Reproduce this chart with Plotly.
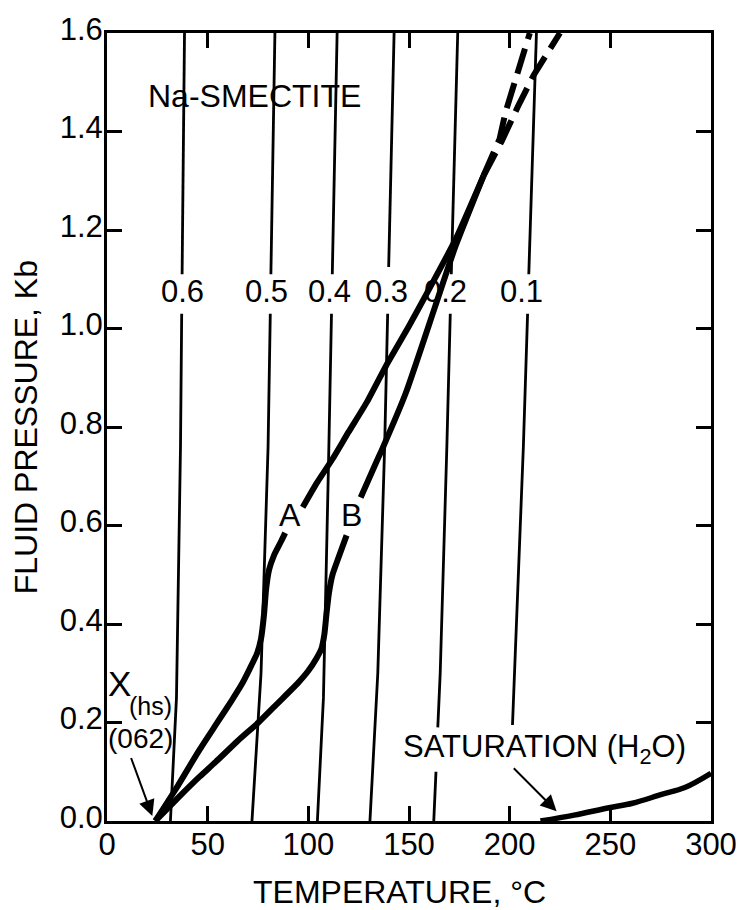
import plotly.graph_objects as go

# ---------------- data ----------------
# Isopleths of hydration state (temperature degC vs fluid pressure kb); None = label gap
ISO_06_T = [31.5, 34.5, 36.5, 37.1, None, 37.3, 38.5]
ISO_06_P = [0.0, 0.25, 0.76, 1.03, None, 1.11, 1.6]
ISO_05_T = [72.0, 76.5, 80.0, 81.1, None, 81.4, 83.4]
ISO_05_P = [0.0, 0.30, 0.76, 1.03, None, 1.11, 1.6]
ISO_04_T = [104.5, 107.5, 110.2, 111.5, None, 111.9, 114.3]
ISO_04_P = [0.0, 0.25, 0.76, 1.03, None, 1.11, 1.6]
ISO_03_T = [130.6, 134.5, 137.9, 139.4, None, 139.9, 142.6]
ISO_03_P = [0.0, 0.30, 0.76, 1.03, None, 1.125, 1.6]
ISO_02_T = [162.3, 163.4, None, 164.3, 165.5, 168.8, 170.5, None, 171.0, 174.2]
ISO_02_P = [0.0, 0.10, None, 0.19, 0.30, 0.76, 1.03, None, 1.11, 1.6]
ISO_01_T = [201.4, 206.8, 208.9, None, 209.5, 213.3]
ISO_01_P = [0.195, 0.76, 1.03, None, 1.11, 1.6]

ISO_LABELS = ["0.6", "0.5", "0.4", "0.3", "0.2", "0.1"]
ISO_LABEL_T = [37.6, 79.1, 110.4, 139.0, 168.0, 205.9]
ISO_LABEL_P = 1.076

# Curve A (solid part, gap at label "A")
A_T = [24, 34.5, 46, 54, 62, 67, 71, 74.5, 76.5, 78, 79, 80.5, 83, 86.5, 88.5,
       None, 97.2, 104, 112, 120, 129, 138.7, 150, 160, 173, 187]
A_P = [0, 0.067, 0.145, 0.195, 0.245, 0.278, 0.31, 0.34, 0.37, 0.42, 0.47, 0.51, 0.54, 0.568, 0.585,
       None, 0.637, 0.685, 0.735, 0.79, 0.85, 0.925, 1.005, 1.08, 1.18, 1.31]
# Curve B (solid part, gap at label "B")
B_T = [24, 36, 46, 54, 65, 75.2, 85, 94.8, 100, 104, 106.5, 108, 109, 110.2, 112, 115, 119,
       None, 126, 133.9, 137, 148.5, 163, 173, 187]
B_P = [0, 0.05, 0.09, 0.12, 0.163, 0.2, 0.24, 0.28, 0.305, 0.33, 0.35, 0.38, 0.42, 0.462, 0.50, 0.535, 0.58,
       None, 0.657, 0.73, 0.758, 0.87, 1.045, 1.166, 1.31]
# Dashed extrapolations
A_DASH_T = [187, 196, 204, 212, 225]
A_DASH_P = [1.31, 1.38, 1.45, 1.515, 1.6]
B_DASH_T = [187, 195, 198, 204, 210]
B_DASH_P = [1.31, 1.385, 1.44, 1.52, 1.6]

# H2O saturation curve
SAT_T = [215.3, 232, 249.4, 261, 275.5, 287, 300]
SAT_P = [0.0, 0.012, 0.027, 0.036, 0.054, 0.068, 0.097]

X_TICKS = [0, 50, 100, 150, 200, 250, 300]
Y_TICKS = [0.0, 0.2, 0.4, 0.6, 0.8, 1.0, 1.2, 1.4, 1.6]

FONT = "Liberation Sans"

fig = go.Figure()

isos = [(ISO_06_T, ISO_06_P), (ISO_05_T, ISO_05_P), (ISO_04_T, ISO_04_P),
        (ISO_03_T, ISO_03_P), (ISO_02_T, ISO_02_P), (ISO_01_T, ISO_01_P)]
for t, p in isos:
    fig.add_trace(go.Scatter(x=t, y=p, mode="lines", line=dict(color="black", width=2.8),
                             showlegend=False, hoverinfo="skip", connectgaps=False))

for t, p in [(A_T, A_P), (B_T, B_P)]:
    fig.add_trace(go.Scatter(x=t, y=p, mode="lines",
                             line=dict(color="black", width=6, shape="spline", smoothing=0.5),
                             showlegend=False, hoverinfo="skip", connectgaps=False))
for t, p in [(A_DASH_T, A_DASH_P), (B_DASH_T, B_DASH_P)]:
    fig.add_trace(go.Scatter(x=t, y=p, mode="lines",
                             line=dict(color="black", width=6, dash="26px,10px"),
                             showlegend=False, hoverinfo="skip"))

fig.add_trace(go.Scatter(x=SAT_T, y=SAT_P, mode="lines",
                         line=dict(color="black", width=5.5, shape="spline"),
                         showlegend=False, hoverinfo="skip"))

ann = []
for lab, t in zip(ISO_LABELS, ISO_LABEL_T):
    ann.append(dict(x=t, y=ISO_LABEL_P, text=lab, showarrow=False,
                    font=dict(family=FONT, size=31, color="black")))
ann += [
    dict(x=73.3, y=1.473, text="Na-SMECTITE", showarrow=False,
         font=dict(family=FONT, size=32, color="black")),
    dict(x=90.9, y=0.622, text="A", showarrow=False, font=dict(family=FONT, size=32, color="black")),
    dict(x=121.2, y=0.622, text="B", showarrow=False, font=dict(family=FONT, size=32, color="black")),
    dict(x=6.35, y=0.279, text="X", showarrow=False, font=dict(family=FONT, size=35, color="black")),
    dict(x=21.5, y=0.233, text="(hs)", showarrow=False, font=dict(family=FONT, size=25, color="black")),
    dict(x=16.6, y=0.167, text="(062)", showarrow=False, font=dict(family=FONT, size=28, color="black")),
    dict(x=22.5, y=0.01, ax=11.7, ay=0.131, axref="x", ayref="y", text="", showarrow=True,
         arrowhead=2, arrowsize=1.6, arrowwidth=2, arrowcolor="black"),
    dict(x=217.5, y=0.146, text="SATURATION (H<sub>2</sub>O)", showarrow=False, yanchor="middle",
         font=dict(family=FONT, size=31, color="black")),
    dict(x=223.3, y=0.02, ax=201.3, ay=0.11, axref="x", ayref="y", text="", showarrow=True,
         arrowhead=2, arrowsize=1.6, arrowwidth=2, arrowcolor="black"),
    dict(x=0.485, y=-0.0905, xref="paper", yref="paper", xanchor="center", yanchor="middle",
         text="TEMPERATURE, °C", showarrow=False,
         font=dict(family=FONT, size=32, color="black")),
    dict(x=-0.1336, y=0.50, xref="paper", yref="paper", xanchor="center", yanchor="middle",
         text="FLUID PRESSURE, Kb", showarrow=False,
         textangle=-90, font=dict(family=FONT, size=32, color="black")),
]

axis_common = dict(showgrid=False, zeroline=False, showline=True, linecolor="black", linewidth=3,
                   mirror="ticks", ticks="inside", ticklen=15, tickwidth=2.5, tickcolor="black",
                   tickfont=dict(family=FONT, size=31, color="black"))
fig.update_xaxes(range=[0, 300], tickvals=X_TICKS, ticktext=[str(v) for v in X_TICKS],
                 ticklabelstandoff=-6, **axis_common)
fig.update_yaxes(range=[0, 1.6], tickvals=Y_TICKS, ticktext=[f"{v:.1f}" for v in Y_TICKS],
                 ticklabelstandoff=-5, ticklabelshift=-4, **axis_common)

fig.update_layout(width=749, height=910, margin=dict(l=107, r=28, t=25, b=89),
                  paper_bgcolor="white", plot_bgcolor="white", annotations=ann,
                  showlegend=False)

fig.write_html("out.html")
